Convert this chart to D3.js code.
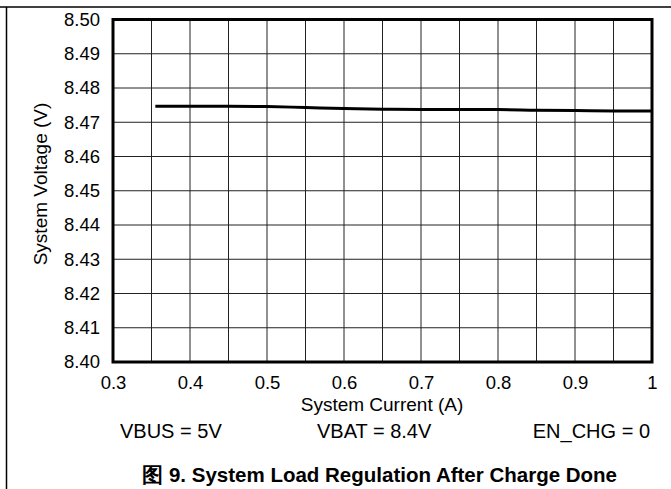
<!DOCTYPE html>
<html><head><meta charset="utf-8">
<script src="https://cdn.jsdelivr.net/npm/d3@7"></script>
<style>body{margin:0;background:#fff}svg{display:block}text{font-family:"Liberation Sans",Arial,sans-serif;fill:#000}</style>
</head><body>
<script>
const current = [0.355, 0.4, 0.45, 0.5, 0.55, 0.6, 0.65, 0.7, 0.75, 0.8, 0.85, 0.9, 0.95, 1.0];
const voltage = [8.4747, 8.4747, 8.4747, 8.4746, 8.4743, 8.4740, 8.4738, 8.4737, 8.4737, 8.4737, 8.4735, 8.4734, 8.4733, 8.4733];
const xTicks = [0.3, 0.4, 0.5, 0.6, 0.7, 0.8, 0.9, 1];
const yTicks = [8.40, 8.41, 8.42, 8.43, 8.44, 8.45, 8.46, 8.47, 8.48, 8.49, 8.50];
const xGrid = [0.35, 0.4, 0.45, 0.5, 0.55, 0.6, 0.65, 0.7, 0.75, 0.8, 0.85, 0.9, 0.95];
const notes = ["VBUS = 5V", "VBAT = 8.4V", "EN_CHG = 0"];
const caption = "图 9. System Load Regulation After Charge Done";

const W = 671, H = 489;
const m = {l: 113, r: 652, t: 19.5, b: 362};
const FONT = '"Liberation Sans",Arial,sans-serif';
const svg = d3.select("body").append("svg").attr("width", W).attr("height", H);

// page frame
svg.append("line").attr("x1", 0).attr("x2", W).attr("y1", 7).attr("y2", 7).attr("stroke", "#000").attr("stroke-width", 1.5);
svg.append("line").attr("x1", 6.5).attr("x2", 6.5).attr("y1", 7).attr("y2", H).attr("stroke", "#000").attr("stroke-width", 1.5);

const x = d3.scaleLinear().domain([0.3, 1.0]).range([m.l, m.r]);
const y = d3.scaleLinear().domain([8.40, 8.50]).range([m.b, m.t]);

// grid
svg.append("g").selectAll("line").data(xGrid).join("line")
  .attr("x1", d => x(d)).attr("x2", d => x(d)).attr("y1", m.t).attr("y2", m.b)
  .attr("stroke", "#222").attr("stroke-width", 1);
svg.append("g").selectAll("line").data(yTicks.slice(1, -1)).join("line")
  .attr("x1", m.l).attr("x2", m.r).attr("y1", d => y(d)).attr("y2", d => y(d))
  .attr("stroke", "#222").attr("stroke-width", 1);

// frame
svg.append("rect").attr("x", m.l).attr("y", m.t).attr("width", m.r - m.l).attr("height", m.b - m.t)
  .attr("fill", "none").attr("stroke", "#000").attr("stroke-width", 3);

const xAxis = svg.append("g").attr("transform", `translate(0,${m.b})`)
  .call(d3.axisBottom(x).tickValues(xTicks).tickSize(0).tickPadding(14).tickFormat(d3.format("")));
xAxis.select(".domain").remove();
xAxis.attr("font-size", null).attr("font-family", null);
xAxis.selectAll("text").style("font-size", "18.5px").style("font-family", FONT).attr("fill", "#000");

const yAxis = svg.append("g").attr("transform", `translate(${m.l},0)`)
  .call(d3.axisLeft(y).tickValues(yTicks).tickSize(0).tickPadding(13).tickFormat(d3.format(".2f")));
yAxis.select(".domain").remove();
yAxis.attr("font-size", null).attr("font-family", null);
yAxis.selectAll("text").style("font-size", "18.5px").style("font-family", FONT).attr("fill", "#000");

// line
const line = d3.line().x((d, i) => x(current[i])).y(d => y(d)).curve(d3.curveMonotoneX);
svg.append("path").datum(voltage).attr("d", line).attr("fill", "none").attr("stroke", "#000").attr("stroke-width", 3);

// titles
svg.append("text").attr("x", 382).attr("y", 411).attr("text-anchor", "middle").style("font-size", "19px").text("System Current (A)");
svg.append("text").attr("transform", `translate(47,184) rotate(-90)`).attr("text-anchor", "middle").style("font-size", "19px").text("System Voltage (V)");

svg.append("text").attr("x", 120).attr("y", 438).style("font-size", "20px").text(notes[0]);
svg.append("text").attr("x", 317).attr("y", 438).style("font-size", "20px").text(notes[1]);
svg.append("text").attr("x", 650).attr("y", 438).attr("text-anchor", "end").style("font-size", "20px").text(notes[2]);

svg.append("text").attr("x", 617).attr("y", 482).attr("text-anchor", "end").style("font-size", "20.5px").style("font-weight", "bold").text(caption);
</script>
</body></html>
